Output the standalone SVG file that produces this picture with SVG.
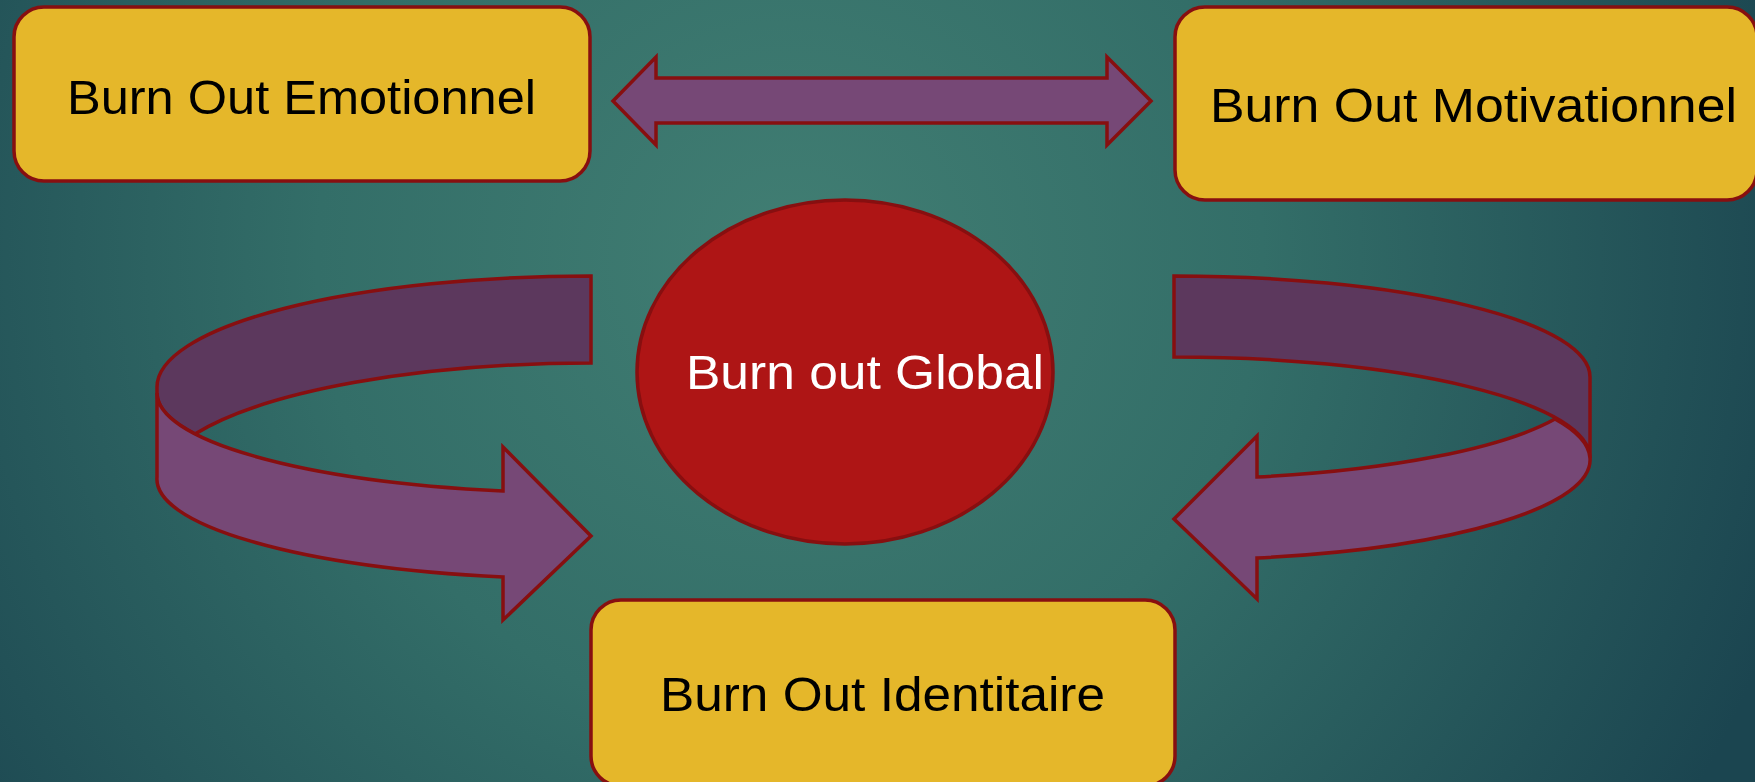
<svg xmlns="http://www.w3.org/2000/svg" width="1755" height="782" viewBox="0 0 1755 782">
  <defs>
    <radialGradient id="bg" cx="790" cy="260" r="1050" gradientUnits="userSpaceOnUse">
      <stop offset="0" stop-color="#417e73"/>
      <stop offset="0.45" stop-color="#336e68"/>
      <stop offset="1" stop-color="#1b4550"/>
    </radialGradient>
  </defs>
  <style>
    .box { fill: #e5b72a; stroke: #870f10; stroke-width: 3.5; }
    .oval { fill: #ae1515; stroke: #870f10; stroke-width: 3.5; }
    .front { fill: #764876; stroke: #870f10; stroke-width: 3.5; stroke-linejoin: miter; }
    .back { fill: #5c385d; stroke: #870f10; stroke-width: 3.5; stroke-linejoin: miter; }
    .lbl { font-family: "Liberation Sans", Arial, sans-serif; font-size: 48px; fill: #000; }
    .lblw { font-family: "Liberation Sans", Arial, sans-serif; font-size: 48px; fill: #fff; }
  </style>
  <rect x="0" y="0" width="1755" height="782" fill="url(#bg)"/>

  <g id="connectors">
    <path class="front" d="M613,101 L656,57 L656,78 L1107,78 L1107,57 L1151,101 L1107,145 L1107,123 L656,123 L656,145 Z"/>
    <g id="left-curved-arrow">
      <path class="back" d="M591,276 A434 111 0 0 0 157,387 L157,393 A434 100 0 0 0 195,434 A434 120 0 0 1 591,363 Z"/>
      <path class="front" d="M157,393 L157,477 A434 100 0 0 0 503,577 L503,620 L591,536 L503,447 L503,491 A434 100 0 0 1 157,393 Z"/>
    </g>
    <g id="right-curved-arrow">
      <path class="back" d="M1174,276 A416 101 0 0 1 1590,377 L1590,458 A416 101 0 0 0 1174,357 Z"/>
      <path class="front" d="M1555,419 A420 99 0 0 1 1257,477 L1257,436 L1174,519 L1257,599 L1257,558 A416 100 0 0 0 1590,458 A416 101 0 0 0 1555,419 Z"/>
    </g>
  </g>

  <g id="node-emotionnel">
    <rect class="box" x="14" y="7" width="576" height="174" rx="30" ry="30"/>
    <text class="lbl" x="67" y="114" textLength="469" lengthAdjust="spacingAndGlyphs">Burn Out Emotionnel</text>
  </g>
  <g id="node-motivationnel">
    <rect class="box" x="1175" y="7" width="582" height="193" rx="30" ry="30"/>
    <text class="lbl" x="1210" y="122" textLength="527" lengthAdjust="spacingAndGlyphs">Burn Out Motivationnel</text>
  </g>
  <g id="node-global">
    <ellipse class="oval" cx="845" cy="372" rx="208" ry="172"/>
    <text class="lblw" x="686" y="389" textLength="358" lengthAdjust="spacingAndGlyphs">Burn out Global</text>
  </g>
  <g id="node-identitaire">
    <rect class="box" x="591" y="600" width="584" height="186" rx="30" ry="30"/>
    <text class="lbl" x="660" y="711" textLength="445" lengthAdjust="spacingAndGlyphs">Burn Out Identitaire</text>
  </g>
</svg>
